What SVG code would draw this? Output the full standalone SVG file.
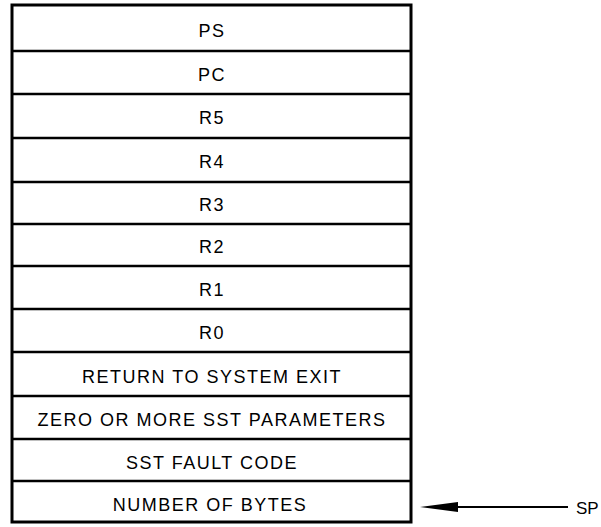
<svg xmlns="http://www.w3.org/2000/svg" width="601" height="527" viewBox="0 0 601 527">
<style>
.frame{fill:#fff;stroke:#000;stroke-width:3}
.div{stroke:#000;stroke-width:2.5}
.lbl{font-family:"Liberation Sans",Arial,sans-serif;font-size:18px;letter-spacing:1.5px;text-anchor:middle;fill:#000}
.sp{font-family:"Liberation Sans",Arial,sans-serif;font-size:17px;fill:#000}
</style>
<rect width="601" height="527" fill="#fff"/>
<g id="stack">
<rect class="frame" x="12" y="5" width="399" height="517"/>
</g>
<g id="row-ps"><text class="lbl" x="212" y="37">PS</text></g>
<g id="row-pc"><line class="div" x1="12" y1="51" x2="411" y2="51"/><text class="lbl" x="212" y="81">PC</text></g>
<g id="row-r5"><line class="div" x1="12" y1="94" x2="411" y2="94"/><text class="lbl" x="212" y="124">R5</text></g>
<g id="row-r4"><line class="div" x1="12" y1="138" x2="411" y2="138"/><text class="lbl" x="212" y="168">R4</text></g>
<g id="row-r3"><line class="div" x1="12" y1="182" x2="411" y2="182"/><text class="lbl" x="212" y="211">R3</text></g>
<g id="row-r2"><line class="div" x1="12" y1="224" x2="411" y2="224"/><text class="lbl" x="212" y="253">R2</text></g>
<g id="row-r1"><line class="div" x1="12" y1="266" x2="411" y2="266"/><text class="lbl" x="212" y="296">R1</text></g>
<g id="row-r0"><line class="div" x1="12" y1="309" x2="411" y2="309"/><text class="lbl" x="212" y="339">R0</text></g>
<g id="row-return"><line class="div" x1="12" y1="352" x2="411" y2="352"/><text class="lbl" x="212" y="383">RETURN TO SYSTEM EXIT</text></g>
<g id="row-params"><line class="div" x1="12" y1="396" x2="411" y2="396"/><text class="lbl" x="212" y="426">ZERO OR MORE SST PARAMETERS</text></g>
<g id="row-fault"><line class="div" x1="12" y1="439" x2="411" y2="439"/><text class="lbl" x="212" y="469">SST FAULT CODE</text></g>
<g id="row-bytes"><line class="div" x1="12" y1="481" x2="411" y2="481"/><text class="lbl" x="210" y="511">NUMBER OF BYTES</text></g>
<g id="connectors">
<line x1="452" y1="507" x2="568" y2="507" stroke="#000" stroke-width="2"/>
<polygon points="420,507 458,502 458,512" fill="#000"/>
</g>
<g id="sp-label"><text class="sp" x="576" y="514">SP</text></g>
</svg>
